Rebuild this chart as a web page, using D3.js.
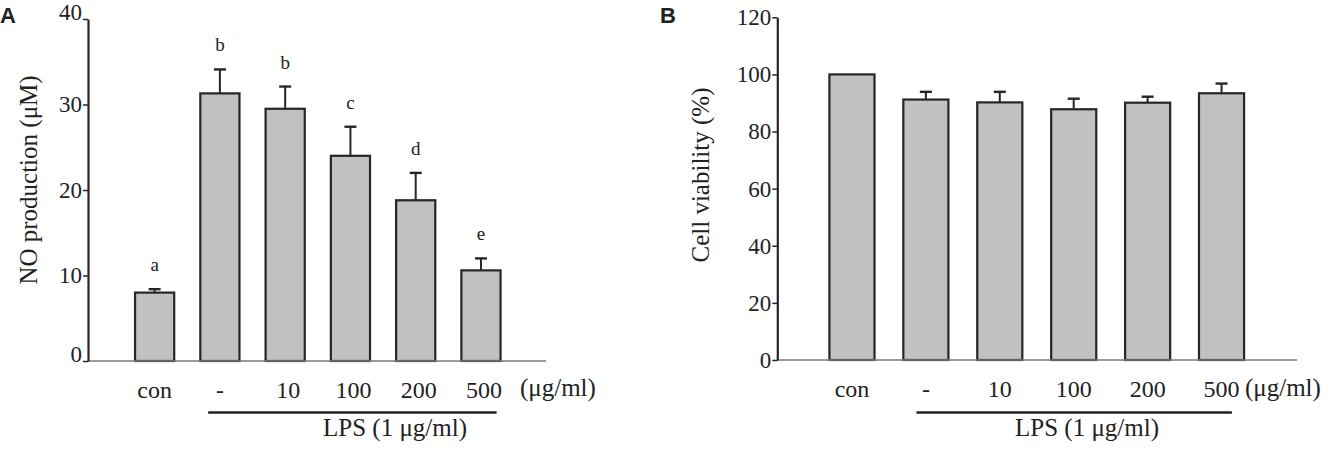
<!DOCTYPE html>
<html><head><meta charset="utf-8">
<script src="https://cdn.jsdelivr.net/npm/d3@7"></script>
<style>
body{margin:0;background:#fff}
svg{display:block}
text{font-family:"Liberation Serif","DejaVu Serif","Times New Roman",serif;fill:#222}
</style>
</head><body>
<svg id="chart" width="1333" height="454"></svg>
<script>
// ---- data ----
const categories = ["con", "-", "10", "100", "200", "500"];
const noValues = [8.0, 31.3, 29.5, 24.0, 18.8, 10.6];
const noErrors = [0.4, 2.8, 2.6, 3.4, 3.2, 1.4];
const noLetters = ["a", "b", "b", "c", "d", "e"];
const noTicks = [0, 10, 20, 30, 40];
const viabilityValues = [100, 91.2, 90.2, 87.8, 90.1, 93.4];
const viabilityErrors = [0, 2.7, 3.7, 3.7, 2.1, 3.4];
const viabilityTicks = [0, 20, 40, 60, 80, 100, 120];
const unitLabel = "(\u03bcg/ml)";
const groupLabel = "LPS (1 \u03bcg/ml)";

const SERIF = '"Liberation Serif","DejaVu Serif","Times New Roman",serif';
const svg = d3.select("#chart");

function panel(cfg) {
  const g = svg.append("g");
  const x = d3.scaleBand().domain(categories).range(cfg.band)
    .paddingInner(cfg.pi).paddingOuter(cfg.pi / 2);
  const y = d3.scaleLinear().domain([0, cfg.max]).range([cfg.y0, cfg.y1]);
  const bw = x.bandwidth();
  const ink = "#262626";

  // bars
  g.selectAll("rect.bar").data(cfg.values).join("rect")
    .attr("class", "bar")
    .attr("x", (d, i) => x(categories[i]))
    .attr("y", d => y(d))
    .attr("width", bw)
    .attr("height", d => y(0) - y(d))
    .attr("fill", "#c1c2bf")
    .attr("stroke", ink)
    .attr("stroke-width", 2.2);

  // error bars (upper half)
  const eb = cfg.values.map((v, i) => ({v, e: cfg.errors[i], c: x(categories[i]) + bw / 2}))
    .filter(d => d.e > 0);
  g.selectAll("line.err").data(eb).join("line")
    .attr("class", "err")
    .attr("x1", d => d.c).attr("x2", d => d.c)
    .attr("y1", d => y(d.v)).attr("y2", d => y(d.v + d.e))
    .attr("stroke", ink).attr("stroke-width", 2);
  g.selectAll("line.cap").data(eb).join("line")
    .attr("class", "cap")
    .attr("x1", d => d.c - 6).attr("x2", d => d.c + 6)
    .attr("y1", d => y(d.v + d.e)).attr("y2", d => y(d.v + d.e))
    .attr("stroke", ink).attr("stroke-width", 2.4);

  // significance letters
  if (cfg.letters) {
    g.selectAll("text.letter").data(cfg.values).join("text")
      .attr("class", "letter")
      .attr("x", (d, i) => x(categories[i]) + bw / 2)
      .attr("y", (d, i) => y(d + cfg.errors[i]) - 18)
      .attr("text-anchor", "middle")
      .style("font-family", SERIF)
      .style("font-size", "19px")
      .text((d, i) => cfg.letters[i]);
  }

  // x axis line
  g.append("line")
    .attr("x1", cfg.ax).attr("x2", cfg.axEnd)
    .attr("y1", y(0)).attr("y2", y(0))
    .attr("stroke", "#7a7a7a").attr("stroke-width", 1.6);

  // category labels via axis
  const xa = g.append("g").attr("transform", `translate(0,${y(0)})`)
    .call(d3.axisBottom(x).tickSize(0).tickPadding(0));
  xa.select(".domain").remove();
  xa.selectAll("text")
    .attr("dy", null).attr("y", 37).attr("dx", (d, i) => i > 1 ? cfg.labelDx : 0)
    .style("font-size", "24px").style("font-family", SERIF).attr("fill", "#222");

  // unit label
  g.append("text").attr("x", cfg.unitX).attr("y", 396)
    .style("font-family", SERIF)
    .style("font-size", "25px").text(unitLabel);

  // LPS underline + label
  g.append("line")
    .attr("x1", x("-") + bw * cfg.ulStart).attr("x2", x("500") + bw * cfg.ulEnd)
    .attr("y1", 412.5).attr("y2", 412.5)
    .attr("stroke", "#222").attr("stroke-width", 2.5);
  g.append("text").attr("x", cfg.lpsX).attr("y", 436)
    .attr("text-anchor", "middle")
    .style("font-family", SERIF)
    .style("font-size", "25px").text(groupLabel);

  // y axis
  const ya = g.append("g").attr("transform", `translate(${cfg.ax},0)`)
    .call(d3.axisLeft(y).tickValues(cfg.ticks).tickSize(5).tickSizeOuter(0).tickPadding(1));
  ya.select(".domain").attr("stroke", ink).attr("stroke-width", 2.2);
  ya.selectAll(".tick line").attr("stroke", ink).attr("stroke-width", 1.5);
  ya.selectAll(".tick text")
    .style("font-size", "23px").style("font-family", SERIF).attr("fill", "#222")
    .attr("dy", d => (cfg.endShift && (d === cfg.ticks[0] || d === cfg.ticks[cfg.ticks.length - 1])) ? "0em" : "0.32em");

  // y title
  g.append("text")
    .attr("transform", `translate(${cfg.titleX},${cfg.titleY}) rotate(-90)`)
    .attr("text-anchor", "middle")
    .style("font-family", SERIF)
    .style("font-size", "25px").text(cfg.title);

  // panel letter
  g.append("text").attr("x", cfg.letterX).attr("y", 23)
    .style("font-family", '"Liberation Sans", Arial, sans-serif')
    .style("font-weight", "bold").style("font-size", "22px").attr("fill", "#111")
    .text(cfg.panel);
}

panel({
  values: noValues, errors: noErrors, letters: noLetters, ticks: noTicks,
  max: 40, y0: 361, y1: 19, band: [122, 513.6], pi: 0.4, labelDx: 3,
  ax: 88, axEnd: 546, unitX: 520, ulStart: 0.2, ulEnd: 0.9, lpsX: 395,
  title: "NO production (\u03bcM)", titleX: 37, titleY: 180, endShift: true,
  panel: "A", letterX: 0
});

panel({
  values: viabilityValues, errors: viabilityErrors, letters: null, ticks: viabilityTicks,
  max: 120, y0: 360, y1: 17.3, band: [815, 1258.5], pi: 0.39, labelDx: 0,
  ax: 777.3, axEnd: 1297, unitX: 1245, ulStart: 0.29, ulEnd: 0.73, lpsX: 1087,
  title: "Cell viability (%)", titleX: 709, titleY: 175, endShift: false,
  panel: "B", letterX: 660
});
</script>
</body></html>
